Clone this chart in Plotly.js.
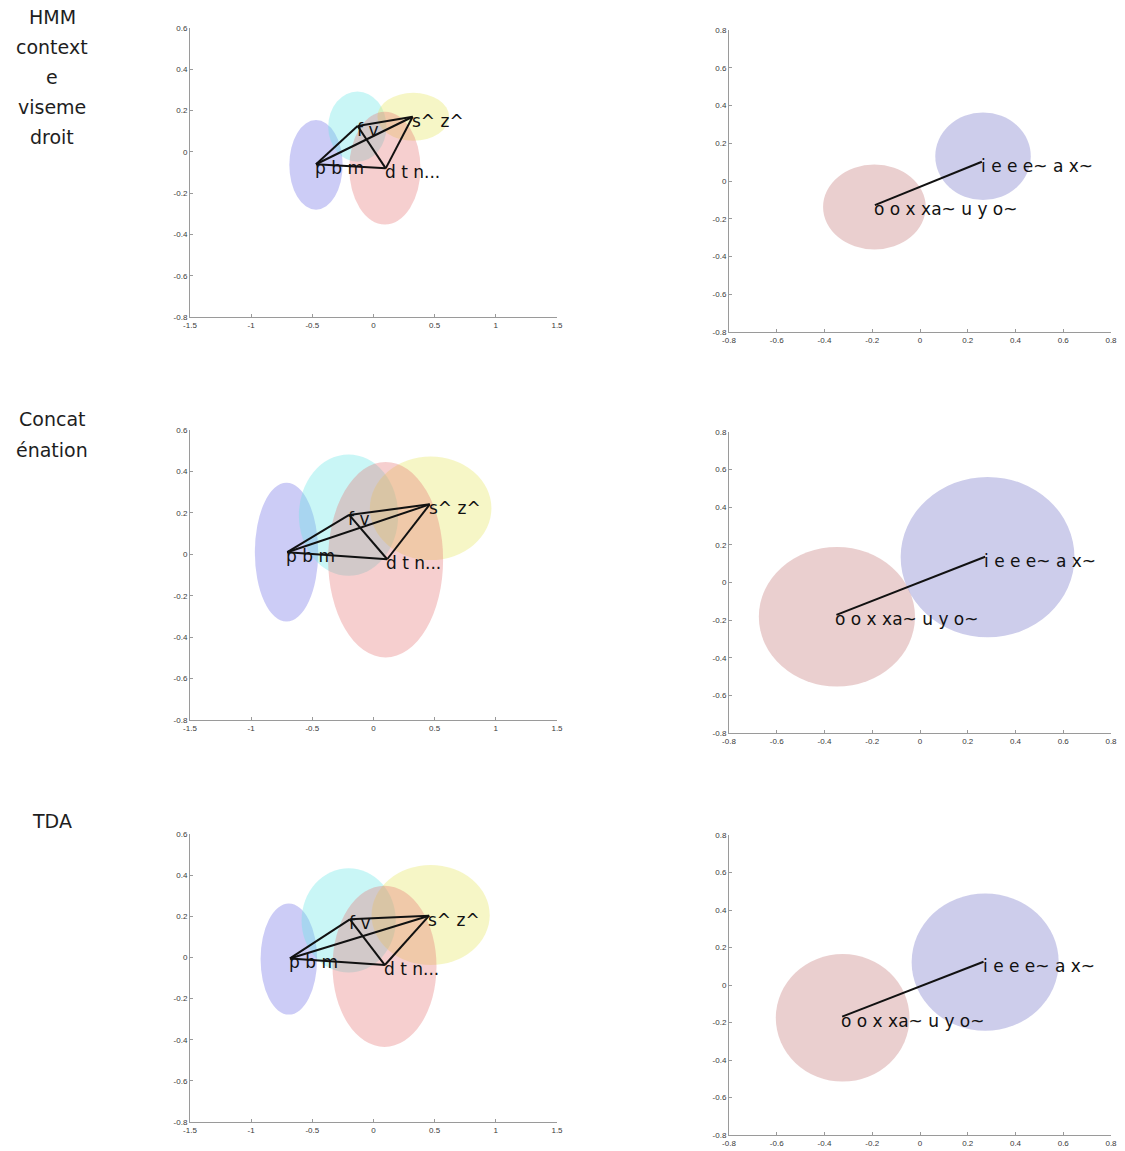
<!DOCTYPE html>
<html>
<head>
<meta charset="utf-8">
<script src="https://cdn.plot.ly/plotly-3.0.1.min.js"></script>
<style>html,body{margin:0;padding:0;background:#fff;}#chart{width:1125px;height:1151px;}</style>
</head>
<body>
<div id="chart"></div>
<script>
// ---------- DATA ----------
const rowLabels = [["HMM","context","e","viseme","droit"],["Concat","énation"],["TDA"]];

// left panels: consonant groups
const consLabels = ["p b m","f v","s^ z^","d t n..."];
const consEdges = [[0,1],[0,2],[0,3],[1,2],[1,3],[2,3]];
// right panels: vowel groups
const vowLabels = ["o o x xa~ u y o~","i e e e~ a x~"];
const vowEdges = [[0,1]];

// row 1 (HMM context viseme droit)
const hmmConsX  = [-0.47, -0.13, 0.32, 0.10];
const hmmConsY  = [-0.06, 0.125, 0.17, -0.08];
const hmmConsCx = [-0.47, -0.132, 0.325, 0.093];
const hmmConsCy = [-0.063, 0.122, 0.170, -0.079];
const hmmConsRx = [0.218, 0.238, 0.293, 0.291];
const hmmConsRy = [0.217, 0.170, 0.116, 0.273];
const hmmVowX   = [-0.189, 0.259];
const hmmVowY   = [-0.128, 0.102];
const hmmVowCx  = [-0.191, 0.264];
const hmmVowCy  = [-0.138, 0.131];
const hmmVowRx  = [0.215, 0.200];
const hmmVowRy  = [0.225, 0.232];

// row 2 (Concaténation)
const catConsX  = [-0.705, -0.199, 0.46, 0.112];
const catConsY  = [0.01, 0.19, 0.241, -0.024];
const catConsCx = [-0.711, -0.204, 0.467, 0.099];
const catConsCy = [0.010, 0.189, 0.222, -0.026];
const catConsRx = [0.259, 0.406, 0.497, 0.470];
const catConsRy = [0.335, 0.293, 0.250, 0.472];
const catVowX   = [-0.350, 0.273];
const catVowY   = [-0.172, 0.137];
const catVowCx  = [-0.348, 0.283];
const catVowCy  = [-0.182, 0.135];
const catVowRx  = [0.327, 0.364];
const catVowRy  = [0.371, 0.426];

// row 3 (TDA)
const tdaConsX  = [-0.683, -0.193, 0.455, 0.093];
const tdaConsY  = [-0.005, 0.185, 0.203, -0.037];
const tdaConsCx = [-0.692, -0.203, 0.467, 0.090];
const tdaConsCy = [-0.008, 0.180, 0.206, -0.043];
const tdaConsRx = [0.231, 0.385, 0.483, 0.425];
const tdaConsRy = [0.270, 0.253, 0.243, 0.392];
const tdaVowX   = [-0.326, 0.266];
const tdaVowY   = [-0.169, 0.124];
const tdaVowCx  = [-0.324, 0.273];
const tdaVowCy  = [-0.175, 0.122];
const tdaVowRx  = [0.280, 0.308];
const tdaVowRy  = [0.340, 0.366];

// ticks
const leftXTicks  = [-1.5,-1,-0.5,0,0.5,1,1.5];
const leftXText   = ["-1.5","-1","-0.5","0","0.5","1","1.5"];
const leftYTicks  = [-0.8,-0.6,-0.4,-0.2,0,0.2,0.4,0.6];
const leftYText   = ["-0.8","-0.6","-0.4","-0.2","0","0.2","0.4","0.6"];
const rightXTicks = [-0.8,-0.6,-0.4,-0.2,0,0.2,0.4,0.6,0.8];
const rightXText  = ["-0.8","-0.6","-0.4","-0.2","0","0.2","0.4","0.6","0.8"];
const rightYTicks = [-0.8,-0.6,-0.4,-0.2,0,0.2,0.4,0.6,0.8];
const rightYText  = ["-0.8","-0.6","-0.4","-0.2","0","0.2","0.4","0.6","0.8"];

// ---------- STYLE / LAYOUT ----------
const W = 1125, H = 1151;
const consColors = ["rgba(115,115,230,0.36)","rgba(105,230,230,0.36)","rgba(232,232,105,0.38)","rgba(230,115,115,0.34)"];
const vowColors  = ["rgba(200,130,130,0.38)","rgba(130,130,205,0.40)"];
const fx = p => p / W;
const fy = p => 1 - p / H;

const panels = [
  {x:hmmConsX,y:hmmConsY,cx:hmmConsCx,cy:hmmConsCy,rx:hmmConsRx,ry:hmmConsRy,labels:consLabels,edges:consEdges,colors:consColors,
   dom:[190,557,28,317],xr:[-1.5,1.5],yr:[-0.8,0.6],xt:leftXTicks,xtt:leftXText,yt:leftYTicks,ytt:leftYText},
  {x:hmmVowX,y:hmmVowY,cx:hmmVowCx,cy:hmmVowCy,rx:hmmVowRx,ry:hmmVowRy,labels:vowLabels,edges:vowEdges,colors:vowColors,
   dom:[729,1111,30,332],xr:[-0.8,0.8],yr:[-0.8,0.8],xt:rightXTicks,xtt:rightXText,yt:rightYTicks,ytt:rightYText},
  {x:catConsX,y:catConsY,cx:catConsCx,cy:catConsCy,rx:catConsRx,ry:catConsRy,labels:consLabels,edges:consEdges,colors:consColors,
   dom:[190,557,430,720],xr:[-1.5,1.5],yr:[-0.8,0.6],xt:leftXTicks,xtt:leftXText,yt:leftYTicks,ytt:leftYText},
  {x:catVowX,y:catVowY,cx:catVowCx,cy:catVowCy,rx:catVowRx,ry:catVowRy,labels:vowLabels,edges:vowEdges,colors:vowColors,
   dom:[729,1111,432,733],xr:[-0.8,0.8],yr:[-0.8,0.8],xt:rightXTicks,xtt:rightXText,yt:rightYTicks,ytt:rightYText},
  {x:tdaConsX,y:tdaConsY,cx:tdaConsCx,cy:tdaConsCy,rx:tdaConsRx,ry:tdaConsRy,labels:consLabels,edges:consEdges,colors:consColors,
   dom:[190,557,834,1122],xr:[-1.5,1.5],yr:[-0.8,0.6],xt:leftXTicks,xtt:leftXText,yt:leftYTicks,ytt:leftYText},
  {x:tdaVowX,y:tdaVowY,cx:tdaVowCx,cy:tdaVowCy,rx:tdaVowRx,ry:tdaVowRy,labels:vowLabels,edges:vowEdges,colors:vowColors,
   dom:[729,1111,835,1135],xr:[-0.8,0.8],yr:[-0.8,0.8],xt:rightXTicks,xtt:rightXText,yt:rightYTicks,ytt:rightYText}
];

const traces = [];
const shapes = [];
const annotations = [];
const layout = {
  width: W, height: H,
  margin: {l:0, r:0, t:0, b:0},
  paper_bgcolor: "#ffffff", plot_bgcolor: "rgba(0,0,0,0)",
  showlegend: false,
  font: {family: "Liberation Sans, Arial, sans-serif"}
};

function axis(dom, range, tv, tt, anchor) {
  return {
    domain: dom, range: range, anchor: anchor,
    tickmode: "array", tickvals: tv, ticktext: tt,
    showline: true, linecolor: "#9a9a9a", linewidth: 1, mirror: false,
    ticks: "inside", ticklen: 3, tickcolor: "#9a9a9a", tickwidth: 1,
    showgrid: false, zeroline: false, fixedrange: true,
    tickfont: {family: "Liberation Sans, Arial, sans-serif", size: 8, color: "#3a3a3a"}
  };
}

panels.forEach((p, i) => {
  const n = i === 0 ? "" : String(i + 1);
  const xa = "x" + n, ya = "y" + n;
  const d = p.dom;
  layout["xaxis" + n] = axis([fx(d[0]), fx(d[1])], p.xr, p.xt, p.xtt, ya);
  layout["yaxis" + n] = axis([fy(d[3]), fy(d[2])], p.yr, p.yt, p.ytt, xa);

  // ellipsoids (projected) as filled ellipses
  p.cx.forEach((c, k) => {
    shapes.push({
      type: "circle", xref: xa, yref: ya, layer: "below",
      x0: c - p.rx[k], x1: c + p.rx[k], y0: p.cy[k] - p.ry[k], y1: p.cy[k] + p.ry[k],
      fillcolor: p.colors[k], line: {width: 0}
    });
  });

  // connecting lines
  const lx = [], ly = [];
  p.edges.forEach(e => {
    lx.push(p.x[e[0]], p.x[e[1]], null);
    ly.push(p.y[e[0]], p.y[e[1]], null);
  });
  traces.push({
    type: "scatter", mode: "lines", x: lx, y: ly, xaxis: xa, yaxis: ya,
    line: {color: "#111111", width: 2}, hoverinfo: "skip"
  });

  // labels
  p.labels.forEach((t, k) => {
    annotations.push({
      xref: xa, yref: ya, x: p.x[k], y: p.y[k], text: t, showarrow: false,
      xanchor: "left", yanchor: "middle", xshift: -3, yshift: -4,
      font: {family: "DejaVu Sans, sans-serif", size: 17, color: "#111111"}
    });
  });
});

// row labels
const rowLineY = [[17,47,77,107,137],[419,450],[821]];
rowLabels.forEach((lines, r) => {
  lines.forEach((t, k) => {
    annotations.push({
      xref: "paper", yref: "paper", x: fx(52), y: fy(rowLineY[r][k]),
      text: t, showarrow: false, xanchor: "center", yanchor: "middle",
      font: {family: "DejaVu Sans, sans-serif", size: 19, color: "#1e1e1e"}
    });
  });
});

layout.shapes = shapes;
layout.annotations = annotations;

Plotly.newPlot("chart", traces, layout, {displayModeBar: false, staticPlot: true});
</script>
</body>
</html>
